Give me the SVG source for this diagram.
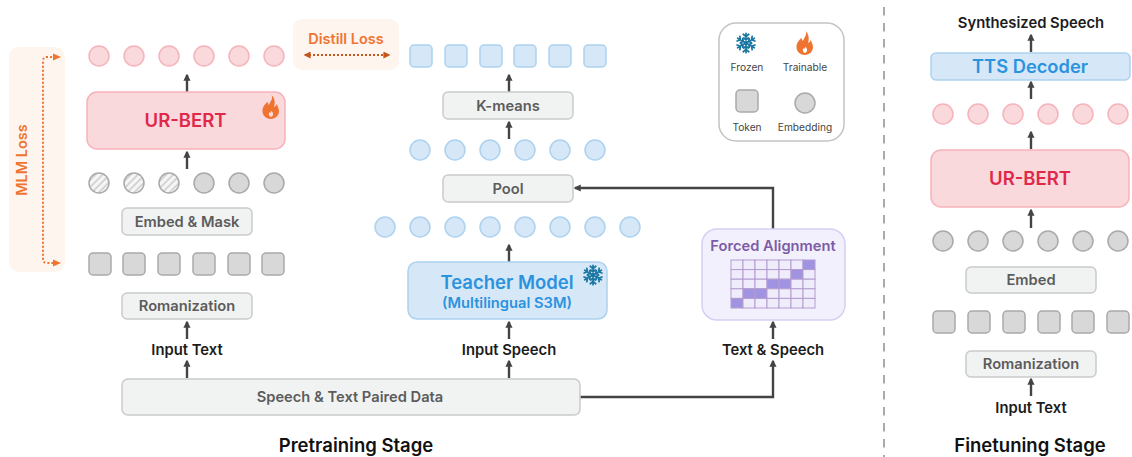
<svg xmlns="http://www.w3.org/2000/svg" width="1132" height="457" viewBox="0 0 1132 457">
<style>
text{font-family:Inter,"Noto Sans","Liberation Sans",sans-serif;text-anchor:middle}
.pk{fill:#fad9dd;stroke:#f6b3ba;stroke-width:1.5}
.bl{fill:#d6e7f7;stroke:#add2f0;stroke-width:1.5}
.gy{fill:#d8d8d8;stroke:#a9a9a9;stroke-width:1.5}
.ht{fill:url(#hatch);stroke:#a9a9a9;stroke-width:1.5}
.bx{fill:#f1f3f3;stroke:#c9cccc;stroke-width:1.5}
.bt{font-size:14.7px;font-weight:600;fill:#5c5c5c}
.lb{font-size:14.8px;font-weight:600;fill:#1c1c1c}
.st{font-size:18.5px;font-weight:600;fill:#111}
.lg{font-size:10.2px;fill:#444}
.or{font-weight:600;fill:#ef7432;font-size:14.5px}
.cn{fill:none;stroke:#444;stroke-width:2.4}
.dot{fill:none;stroke:#ef7432;stroke-width:2;stroke-dasharray:2 2}
.fl{fill:#ef7432}
.sn{stroke:#1b78a3;stroke-width:1.9;fill:none;stroke-linecap:round}
.gc{fill:#efedfb;stroke:#b49ccf;stroke-width:1}
.gf{fill:#a093e2;stroke:#b49ccf;stroke-width:1}
</style>
<defs>
<pattern id="hatch" width="5" height="5" patternUnits="userSpaceOnUse" patternTransform="rotate(45)"><rect width="5" height="5" fill="#f6f6f6"/><rect width="2" height="5" fill="#d4d4d4"/></pattern>
<marker id="ah" viewBox="0 0 10 10" refX="8" refY="5" markerWidth="3" markerHeight="3" orient="auto"><path d="M0 0L10 5L0 10z" fill="#444"/></marker>
<marker id="oh" viewBox="0 0 10 10" refX="8" refY="5" markerUnits="userSpaceOnUse" markerWidth="7" markerHeight="7" orient="auto-start-reverse"><path d="M0 0L10 5L0 10z" fill="#c4561c"/></marker>
<symbol id="flame" viewBox="0 0 17 24" overflow="visible"><path class="fl" d="M9.500 0C11.500 4 8 6.500 7 10C6 9 5.800 8 5.500 6.800C2 10 0 13 0.500 16.800C1 21 4.500 24 8.800 24C13.500 24 17 20.500 17 16.300C17 13.300 15.500 11.300 14.800 9C14 10.500 13.500 11.500 12.200 12C13.200 7.500 13 3 9.500 0ZM9 22C7 21.500 6.300 19.500 7.200 17.300C8 18.200 8.800 18 9.300 15.800C11.500 17.500 12 21 9 22Z"/></symbol>
<symbol id="snow" viewBox="-12 -12 24 24" overflow="visible"><g class="sn"><g id="arm"><path d="M0 0V-10.500M-3 -9.500L0 -7L3 -9.500M-2.500 -5.500L0 -3.500L2.500 -5.500"/></g><use href="#arm" transform="rotate(60)"/><use href="#arm" transform="rotate(120)"/><use href="#arm" transform="rotate(180)"/><use href="#arm" transform="rotate(240)"/><use href="#arm" transform="rotate(300)"/></g><circle r="2.200" fill="#1b78a3"/></symbol>
</defs>

<g id="panel-mlm"><rect x="9" y="47" width="56" height="225" rx="10" fill="#fef5ef"/><text class="or" transform="translate(27 160) rotate(-90)">MLM Loss</text></g>
<g id="panel-distill"><rect x="293" y="19" width="106" height="51" rx="9" fill="#fef5ef"/><text class="or" x="346" y="44">Distill Loss</text></g>

<g id="connectors">
<path class="dot" d="M56 57H47Q43 57 43 61V259Q43 263 47 263H54"/>
<path d="M53 53.500L61 57L53 60.500z" fill="#ef7432"/><path d="M53 259.500L61 263L53 266.500z" fill="#ef7432"/>
<path d="M305 55H389" stroke="#c4561c" stroke-width="2" stroke-dasharray="2 2" fill="none" marker-start="url(#oh)" marker-end="url(#oh)"/>
<path class="cn" marker-end="url(#ah)" d="M187 92V75"/>
<path class="cn" marker-end="url(#ah)" d="M187 169V152"/>
<path class="cn" marker-end="url(#ah)" d="M187 378V361"/>
<path class="cn" marker-end="url(#ah)" d="M187 339V322"/>
<path class="cn" marker-end="url(#ah)" d="M509 378V361"/>
<path class="cn" marker-end="url(#ah)" d="M509 339V322"/>
<path class="cn" marker-end="url(#ah)" d="M509 262V245"/>
<path class="cn" marker-end="url(#ah)" d="M509 139V122"/>
<path class="cn" marker-end="url(#ah)" d="M509 92V75"/>
<path class="cn" marker-end="url(#ah)" d="M580 397H773V361"/>
<path class="cn" marker-end="url(#ah)" d="M773 339V322"/>
<path class="cn" marker-end="url(#ah)" d="M773 229V188H575"/>
<path class="cn" marker-end="url(#ah)" d="M1031 52V35"/>
<path class="cn" marker-end="url(#ah)" d="M1031 99V82"/>
<path class="cn" marker-end="url(#ah)" d="M1031 149V132"/>
<path class="cn" marker-end="url(#ah)" d="M1031 228V210"/>
<path class="cn" marker-end="url(#ah)" d="M1031 396V379"/>
</g>

<g id="ur-bert-output"><circle class="pk" cx="99" cy="56" r="10"/><circle class="pk" cx="134" cy="56" r="10"/><circle class="pk" cx="169" cy="56" r="10"/><circle class="pk" cx="204" cy="56" r="10"/><circle class="pk" cx="239" cy="56" r="10"/><circle class="pk" cx="274" cy="56" r="10"/></g>
<g id="ur-bert"><rect class="pk" x="87" y="92" width="198" height="57" rx="10"/><text x="185.500" y="127" font-size="18.500" font-weight="600" fill="#e0284a">UR-BERT</text><use href="#flame" x="262" y="95" width="17" height="24"/></g>
<g id="masked-embeddings"><circle class="ht" cx="99" cy="183" r="10"/><circle class="ht" cx="134" cy="183" r="10"/><circle class="ht" cx="169" cy="183" r="10"/><circle class="gy" cx="204" cy="183" r="10"/><circle class="gy" cx="239" cy="183" r="10"/><circle class="gy" cx="274" cy="183" r="10"/></g>
<g id="embed-mask"><rect class="bx" x="122" y="208" width="130" height="27" rx="5"/><text class="bt" x="187" y="227">Embed &amp; Mask</text></g>
<g id="tokens-left"><rect class="gy" x="89" y="253" width="22" height="22" rx="4"/><rect class="gy" x="123" y="253" width="22" height="22" rx="4"/><rect class="gy" x="158" y="253" width="22" height="22" rx="4"/><rect class="gy" x="193" y="253" width="22" height="22" rx="4"/><rect class="gy" x="228" y="253" width="22" height="22" rx="4"/><rect class="gy" x="262" y="253" width="22" height="22" rx="4"/></g>
<g id="romanization-left"><rect class="bx" x="122" y="293" width="130" height="26" rx="5"/><text class="bt" x="187" y="311">Romanization</text></g>
<g id="input-text-left"><text class="lb" x="187" y="355">Input Text</text></g>

<g id="paired-data"><rect class="bx" x="122" y="379" width="458" height="36" rx="6"/><text class="bt" x="350" y="402">Speech &amp; Text Paired Data</text></g>
<g id="input-speech"><text class="lb" x="509" y="355">Input Speech</text></g>
<g id="teacher"><rect class="bl" x="408" y="262" width="199" height="57" rx="9"/><text x="507" y="289" font-size="18.500" font-weight="600" fill="#2b93de">Teacher Model</text><text x="507" y="308" font-size="14.700" font-weight="600" fill="#2b93de">(Multilingual S3M)</text><use href="#snow" x="582" y="264" width="22" height="22"/></g>
<g id="frame-embeddings"><circle class="bl" cx="385" cy="227" r="10"/><circle class="bl" cx="420" cy="227" r="10"/><circle class="bl" cx="455" cy="227" r="10"/><circle class="bl" cx="490" cy="227" r="10"/><circle class="bl" cx="525" cy="227" r="10"/><circle class="bl" cx="560" cy="227" r="10"/><circle class="bl" cx="595" cy="227" r="10"/><circle class="bl" cx="630" cy="227" r="10"/></g>
<g id="pool"><rect class="bx" x="443" y="175" width="130" height="27" rx="5"/><text class="bt" x="508" y="194">Pool</text></g>
<g id="pooled-embeddings"><circle class="bl" cx="420" cy="150" r="10"/><circle class="bl" cx="455" cy="150" r="10"/><circle class="bl" cx="490" cy="150" r="10"/><circle class="bl" cx="525" cy="150" r="10"/><circle class="bl" cx="560" cy="150" r="10"/><circle class="bl" cx="595" cy="150" r="10"/></g>
<g id="k-means"><rect class="bx" x="443" y="92" width="130" height="27" rx="5"/><text class="bt" x="508" y="111">K-means</text></g>
<g id="teacher-tokens"><rect class="bl" x="410" y="45" width="22" height="22" rx="4"/><rect class="bl" x="445" y="45" width="22" height="22" rx="4"/><rect class="bl" x="480" y="45" width="22" height="22" rx="4"/><rect class="bl" x="514" y="45" width="22" height="22" rx="4"/><rect class="bl" x="549" y="45" width="22" height="22" rx="4"/><rect class="bl" x="584" y="45" width="22" height="22" rx="4"/></g>

<g id="legend"><rect x="719" y="23" width="125" height="118" rx="17" fill="#fff" stroke="#c4c4c4" stroke-width="1.500"/>
<use href="#snow" x="735" y="32" width="22" height="22"/><use href="#flame" x="796" y="31" width="17" height="24"/>
<text class="lg" x="747" y="71">Frozen</text><text class="lg" x="805" y="71">Trainable</text>
<rect class="gy" x="736" y="90" width="22" height="22" rx="4"/><circle class="gy" cx="805" cy="103" r="10"/>
<text class="lg" x="747" y="131">Token</text><text class="lg" x="805" y="131">Embedding</text></g>

<g id="forced-alignment"><rect x="702" y="229" width="143" height="91" rx="15" fill="#f1f0fc" stroke="#d4d0f4" stroke-width="1.500"/><text x="773" y="251" font-size="14.700" font-weight="600" fill="#7d5ba6">Forced Alignment</text>
<g id="grid">
<rect class="gc" x="731" y="260" width="12" height="9.600"/><rect class="gc" x="743" y="260" width="12" height="9.600"/><rect class="gc" x="755" y="260" width="12" height="9.600"/><rect class="gc" x="767" y="260" width="12" height="9.600"/><rect class="gc" x="779" y="260" width="12" height="9.600"/><rect class="gc" x="791" y="260" width="12" height="9.600"/><rect class="gf" x="803" y="260" width="12" height="9.600"/>
<rect class="gc" x="731" y="269.600" width="12" height="9.600"/><rect class="gc" x="743" y="269.600" width="12" height="9.600"/><rect class="gc" x="755" y="269.600" width="12" height="9.600"/><rect class="gc" x="767" y="269.600" width="12" height="9.600"/><rect class="gc" x="779" y="269.600" width="12" height="9.600"/><rect class="gf" x="791" y="269.600" width="12" height="9.600"/><rect class="gc" x="803" y="269.600" width="12" height="9.600"/>
<rect class="gc" x="731" y="279.200" width="12" height="9.600"/><rect class="gc" x="743" y="279.200" width="12" height="9.600"/><rect class="gc" x="755" y="279.200" width="12" height="9.600"/><rect class="gf" x="767" y="279.200" width="12" height="9.600"/><rect class="gf" x="779" y="279.200" width="12" height="9.600"/><rect class="gc" x="791" y="279.200" width="12" height="9.600"/><rect class="gc" x="803" y="279.200" width="12" height="9.600"/>
<rect class="gc" x="731" y="288.800" width="12" height="9.600"/><rect class="gf" x="743" y="288.800" width="12" height="9.600"/><rect class="gf" x="755" y="288.800" width="12" height="9.600"/><rect class="gc" x="767" y="288.800" width="12" height="9.600"/><rect class="gc" x="779" y="288.800" width="12" height="9.600"/><rect class="gc" x="791" y="288.800" width="12" height="9.600"/><rect class="gc" x="803" y="288.800" width="12" height="9.600"/>
<rect class="gf" x="731" y="298.400" width="12" height="9.600"/><rect class="gc" x="743" y="298.400" width="12" height="9.600"/><rect class="gc" x="755" y="298.400" width="12" height="9.600"/><rect class="gc" x="767" y="298.400" width="12" height="9.600"/><rect class="gc" x="779" y="298.400" width="12" height="9.600"/><rect class="gc" x="791" y="298.400" width="12" height="9.600"/><rect class="gc" x="803" y="298.400" width="12" height="9.600"/>
</g></g>
<g id="text-speech"><text class="lb" x="773" y="355">Text &amp; Speech</text></g>
<g id="pretraining-label"><text class="st" x="356" y="452">Pretraining Stage</text></g>

<path id="divider" d="M884 7V457" stroke="#aaa" stroke-width="2" stroke-dasharray="8.500 7.500" fill="none"/>

<g id="synth-speech"><text class="lb" x="1031" y="28">Synthesized Speech</text></g>
<g id="tts-decoder"><rect class="bl" x="931" y="53" width="199" height="27" rx="5"/><text x="1030" y="73" font-size="18.300" font-weight="600" fill="#2b93de">TTS Decoder</text></g>
<g id="ft-output"><circle class="pk" cx="943" cy="114" r="10"/><circle class="pk" cx="978" cy="114" r="10"/><circle class="pk" cx="1013" cy="114" r="10"/><circle class="pk" cx="1048" cy="114" r="10"/><circle class="pk" cx="1083" cy="114" r="10"/><circle class="pk" cx="1118" cy="114" r="10"/></g>
<g id="ft-ur-bert"><rect class="pk" x="931" y="150" width="198" height="57" rx="10"/><text x="1030" y="185" font-size="18.500" font-weight="600" fill="#e0284a">UR-BERT</text></g>
<g id="ft-embeddings"><circle class="gy" cx="943" cy="241" r="10"/><circle class="gy" cx="978" cy="241" r="10"/><circle class="gy" cx="1013" cy="241" r="10"/><circle class="gy" cx="1048" cy="241" r="10"/><circle class="gy" cx="1083" cy="241" r="10"/><circle class="gy" cx="1118" cy="241" r="10"/></g>
<g id="ft-embed"><rect class="bx" x="966" y="267" width="130" height="26" rx="5"/><text class="bt" x="1031" y="285">Embed</text></g>
<g id="ft-tokens"><rect class="gy" x="933" y="311" width="22" height="22" rx="4"/><rect class="gy" x="968" y="311" width="22" height="22" rx="4"/><rect class="gy" x="1003" y="311" width="22" height="22" rx="4"/><rect class="gy" x="1038" y="311" width="22" height="22" rx="4"/><rect class="gy" x="1072" y="311" width="22" height="22" rx="4"/><rect class="gy" x="1107" y="311" width="22" height="22" rx="4"/></g>
<g id="ft-romanization"><rect class="bx" x="966" y="351" width="130" height="26" rx="5"/><text class="bt" x="1031" y="369">Romanization</text></g>
<g id="ft-input"><text class="lb" x="1031" y="413">Input Text</text></g>
<g id="finetuning-label"><text class="st" x="1030" y="452">Finetuning Stage</text></g>
</svg>
